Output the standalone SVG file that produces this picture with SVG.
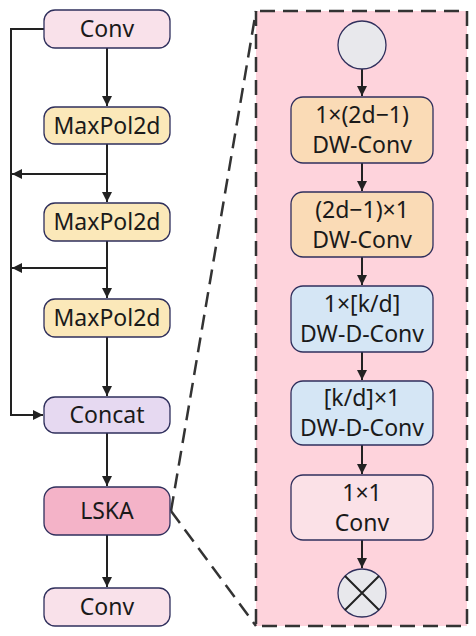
<svg xmlns="http://www.w3.org/2000/svg" width="476" height="636" viewBox="0 0 476 636">
<style>
.box{stroke:#2f2f5c;stroke-width:1.3}
.t{font-family:"Noto Sans","Open Sans","DejaVu Sans",sans-serif;font-size:23px;fill:#1a1a1a;text-anchor:middle}
.c{fill:none;stroke:#222;stroke-width:2}
.d{fill:none;stroke:#333;stroke-width:2.5;stroke-dasharray:15 8}
</style>
<defs>
<marker id="ah" viewBox="0 0 10 10" refX="10" refY="5" markerWidth="10" markerHeight="10" markerUnits="userSpaceOnUse" orient="auto">
<path d="M0,0 L10,5 L0,10 Z" fill="#222"/>
</marker>
</defs>
<g id="panel">
<rect x="256" y="11" width="211" height="615" fill="#fed3dc"/>
</g>
<g id="connectors">
<path class="d" d="M256,11 L256,626 L467,626 L467,11 Z"/>
<path class="d" d="M171,511 L256,11"/>
<path class="d" d="M171,511 L256,626"/>
<path class="c" d="M44,29 H11 V415 H43" marker-end="url(#ah)"/>
<path class="c" d="M107,174 H12" marker-end="url(#ah)"/>
<path class="c" d="M107,268 H12" marker-end="url(#ah)"/>
<path class="c" d="M107,48 V106" marker-end="url(#ah)"/>
<path class="c" d="M107,144 V202" marker-end="url(#ah)"/>
<path class="c" d="M107,241 V298" marker-end="url(#ah)"/>
<path class="c" d="M107,337 V396" marker-end="url(#ah)"/>
<path class="c" d="M107,433 V486" marker-end="url(#ah)"/>
<path class="c" d="M107,535 V587" marker-end="url(#ah)"/>
<path class="c" d="M362,69 V96" marker-end="url(#ah)"/>
<path class="c" d="M362,163 V191" marker-end="url(#ah)"/>
<path class="c" d="M362,257 V285" marker-end="url(#ah)"/>
<path class="c" d="M362,352 V380" marker-end="url(#ah)"/>
<path class="c" d="M362,445 V474" marker-end="url(#ah)"/>
<path class="c" d="M362,540 V568" marker-end="url(#ah)"/>
</g>
<g id="conv1"><rect class="box" x="44" y="10" width="126" height="38" rx="11" fill="#f9e1ea"/><text class="t" x="107" y="37">Conv</text></g>
<g id="maxpool1"><rect class="box" x="44" y="107" width="126" height="37" rx="11" fill="#fbe8b9"/><text class="t" x="107" y="134">MaxPol2d</text></g>
<g id="maxpool2"><rect class="box" x="44" y="203" width="126" height="38" rx="11" fill="#fbe8b9"/><text class="t" x="107" y="230">MaxPol2d</text></g>
<g id="maxpool3"><rect class="box" x="44" y="299" width="126" height="38" rx="11" fill="#fbe8b9"/><text class="t" x="107" y="326">MaxPol2d</text></g>
<g id="concat"><rect class="box" x="44" y="397" width="126" height="36" rx="11" fill="#e6d9f1"/><text class="t" x="107" y="423">Concat</text></g>
<g id="lska"><rect class="box" x="44" y="487" width="126" height="48" rx="12" fill="#f4b3c8"/><text class="t" x="107" y="519">LSKA</text></g>
<g id="conv2"><rect class="box" x="44" y="588" width="126" height="38" rx="11" fill="#f9e1ea"/><text class="t" x="107" y="615">Conv</text></g>
<g id="input"><circle class="box" cx="362" cy="45" r="24" fill="#e8e8ec"/></g>
<g id="dwconv1"><rect class="box" x="291" y="97" width="142" height="66" rx="12" fill="#fadbb6"/><text class="t" x="362" y="123">1×(2d−1)</text><text class="t" x="362" y="153">DW-Conv</text></g>
<g id="dwconv2"><rect class="box" x="291" y="192" width="142" height="65" rx="12" fill="#fadbb6"/><text class="t" x="362" y="218">(2d−1)×1</text><text class="t" x="362" y="248">DW-Conv</text></g>
<g id="dwdconv1"><rect class="box" x="291" y="286" width="142" height="66" rx="12" fill="#d5e6f5"/><text class="t" x="362" y="312">1×[k/d]</text><text class="t" x="362" y="342">DW-D-Conv</text></g>
<g id="dwdconv2"><rect class="box" x="291" y="381" width="142" height="64" rx="12" fill="#d5e6f5"/><text class="t" x="362" y="406">[k/d]×1</text><text class="t" x="362" y="436">DW-D-Conv</text></g>
<g id="conv1x1"><rect class="box" x="291" y="475" width="142" height="65" rx="12" fill="#fbe1e7"/><text class="t" x="362" y="501">1×1</text><text class="t" x="362" y="531">Conv</text></g>
<g id="multiply"><circle class="box" cx="362" cy="593" r="24" fill="#e8e8ec"/><path d="M345,576 L379,610 M379,576 L345,610" stroke="#222" stroke-width="2"/></g>
</svg>
